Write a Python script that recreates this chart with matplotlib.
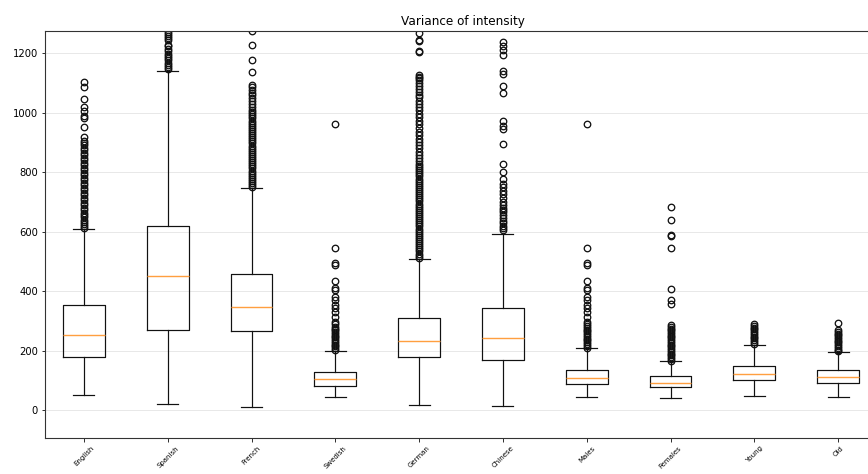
import matplotlib
matplotlib.use("Agg")
import matplotlib.pyplot as plt

labels = ["English", "Spanish", "French", "Swedish", "German",
          "Chinese", "Males", "Females", "Young", "Old"]

# box statistics
whislo = [49, 20, 9, 45, 16, 13, 45, 41, 47, 45]
q1 = [179, 269, 266, 81, 177, 167, 86, 78, 100, 92]
med = [253, 450, 346, 103, 233, 241, 109, 92, 120, 111]
q3 = [352, 618, 458, 129, 309, 342, 134, 113, 148, 134]
whishi = [609, 1141, 747, 198, 509, 593, 207, 164, 220, 195]

english_fl = [612, 618, 625, 633, 640, 648, 655, 663, 671, 680, 688, 696, 705,
              713, 722, 730, 738, 747, 755, 764, 772, 781, 790, 798, 806, 815,
              823, 832, 840, 848, 856, 865, 873, 882, 890, 898, 905, 918, 950,
              982, 988, 1005, 1020, 1045, 1085, 1103]
spanish_fl = [1146, 1152, 1160, 1168, 1175, 1183, 1190, 1198, 1206, 1214, 1222,
              1228, 1245, 1252, 1258, 1264, 1270, 1290, 1320]
french_fl = [750, 756, 763, 770, 777, 784, 791, 798, 805, 812, 819, 826, 833,
             840, 847, 854, 861, 868, 875, 882, 889, 896, 903, 910, 917, 924,
             931, 938, 945, 952, 959, 966, 973, 980, 987, 994, 1001, 1010, 1020,
             1030, 1040, 1050, 1058, 1066, 1075, 1085, 1092, 1135, 1175, 1228,
             1275]
swedish_fl = [202, 208, 214, 220, 226, 232, 238, 244, 250, 256, 262, 268, 274,
              280, 288, 297, 312, 330, 342, 353, 370, 379, 405, 409, 435, 487,
              495, 543, 962]
german_fl = [512, 519, 526, 533, 540, 547, 554, 561, 568, 575, 582, 589, 596,
             603, 610, 617, 624, 631, 638, 645, 652, 659, 666, 673, 680, 687,
             694, 701, 708, 715, 722, 729, 736, 743, 750, 757, 764, 771, 778,
             785, 792, 799, 806, 813, 820, 828, 838, 848, 858, 868, 880, 890,
             900, 912, 925, 935, 948, 960, 972, 985, 995, 1008, 1018, 1030,
             1040, 1052, 1060, 1070, 1080, 1090, 1100, 1109, 1115, 1120, 1126,
             1203, 1208, 1240, 1244, 1268]
chinese_fl = [605, 612, 620, 628, 636, 645, 655, 665, 672, 680, 690, 700, 712,
              725, 735, 748, 760, 778, 801, 827, 894, 943, 955, 972, 1064, 1089,
              1131, 1140, 1193, 1210, 1224, 1238]
males_fl = [210, 216, 222, 228, 234, 240, 246, 252, 258, 264, 270, 276, 282,
            290, 297, 312, 330, 342, 353, 370, 379, 405, 409, 435, 487, 495,
            543, 962]
females_fl = [166, 172, 178, 184, 190, 196, 202, 208, 214, 220, 226, 232, 238,
              244, 250, 256, 262, 268, 274, 280, 286, 358, 370, 406, 543, 586,
              590, 639, 681]
young_fl = [223, 229, 235, 241, 247, 253, 259, 265, 271, 277, 283, 288]
old_fl = [197, 203, 209, 215, 221, 227, 233, 239, 245, 251, 257, 263, 268, 292]

fliers = [english_fl, spanish_fl, french_fl, swedish_fl, german_fl,
          chinese_fl, males_fl, females_fl, young_fl, old_fl]

stats = []
for i in range(len(labels)):
    stats.append({
        "label": labels[i],
        "whislo": whislo[i],
        "q1": q1[i],
        "med": med[i],
        "q3": q3[i],
        "whishi": whishi[i],
        "fliers": fliers[i],
    })

fig = plt.figure(figsize=(868 / 72, 474 / 72), dpi=72)
# axes runs off the right edge like in the reference
ax = fig.add_axes([45 / 868, 36 / 474, 835 / 868, 407 / 474])

lw = 1.2
ax.bxp(stats, showfliers=True,
       boxprops=dict(linewidth=lw, color="#111111"),
       whiskerprops=dict(linewidth=lw, color="#111111"),
       capprops=dict(linewidth=lw, color="#111111"),
       medianprops=dict(linewidth=1.4, color="#ff9f40"),
       flierprops=dict(marker="o", markersize=6.5, markeredgewidth=1.3,
                       markeredgecolor="#111111", markerfacecolor="none"))

ax.set_xlim(0.535, 10.5)
ax.set_ylim(-94, 1274)
ax.set_yticks([0, 200, 400, 600, 800, 1000, 1200])
ax.yaxis.grid(True, color="#e6e6e6", linewidth=0.9)
ax.set_axisbelow(True)
for sp in ax.spines.values():
    sp.set_linewidth(1.1)
    sp.set_color("#333333")

ax.set_xticks(range(1, len(labels) + 1))
ax.set_xticklabels(labels, rotation=45, fontsize=7)
ax.set_title("Variance of intensity", fontsize=12)

fig.savefig("out.png", dpi=72)
